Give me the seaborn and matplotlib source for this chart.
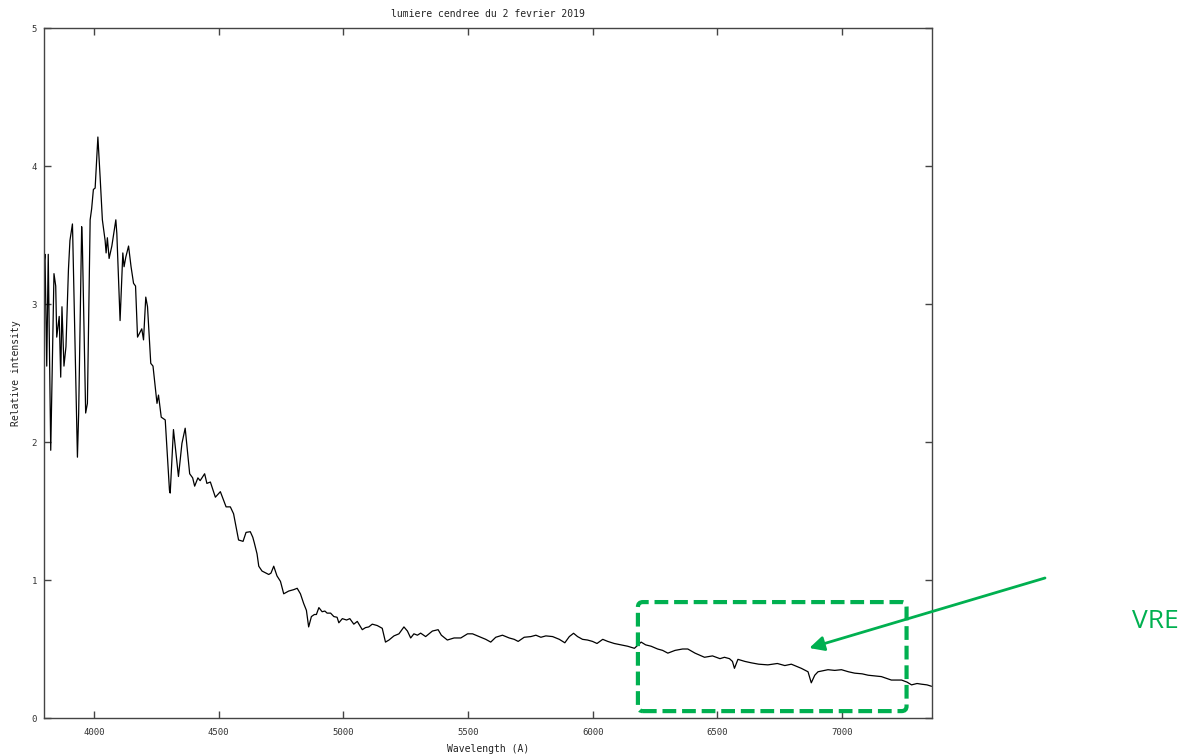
import numpy as np
import pandas as pd
import seaborn as sns
import matplotlib.pyplot as plt
from matplotlib.patches import FancyBboxPatch

# ---- data ----
wavelength = [
    3800, 3804, 3811, 3817, 3827, 3840, 3847, 3851, 3861, 3867, 3872, 3880, 3888, 3898,
    3904, 3914, 3915, 3934, 3939, 3951, 3954, 3967, 3974, 3985, 3991, 3998, 4005, 4016,
    4025, 4034, 4045, 4049, 4054, 4061, 4072, 4088, 4092, 4105, 4116, 4121, 4128, 4139,
    4149, 4159, 4167, 4175, 4192, 4199, 4208, 4215, 4228, 4237, 4253, 4259, 4270, 4286,
    4303, 4306, 4319, 4339, 4353, 4366, 4384, 4396, 4404, 4417, 4426, 4444, 4453, 4467,
    4487, 4507, 4530, 4547, 4560, 4580, 4598, 4610, 4627, 4637, 4643, 4654, 4661, 4674,
    4701, 4710, 4721, 4734, 4748, 4761, 4781, 4801, 4815, 4828, 4841, 4852, 4861, 4872,
    4884, 4892, 4902, 4915, 4926, 4935, 4949, 4962, 4975, 4982, 4996, 5013, 5026, 5042,
    5056, 5076, 5089, 5102, 5116, 5136, 5156, 5169, 5183, 5203, 5223, 5243, 5257, 5270,
    5283, 5297, 5310, 5330, 5357, 5380, 5393, 5417, 5444, 5471, 5498, 5518, 5544, 5571,
    5591, 5611, 5638, 5665, 5685, 5701, 5725, 5752, 5772, 5792, 5812, 5839, 5866, 5888,
    5906, 5923, 5939, 5959, 5979, 5999, 6017, 6040, 6060, 6086, 6113, 6140, 6167, 6194,
    6212, 6234, 6260, 6280, 6301, 6330, 6360, 6381, 6410, 6448, 6480, 6510, 6528, 6548,
    6560, 6568, 6582, 6610, 6635, 6665, 6702, 6740, 6770, 6796, 6836, 6863, 6876, 6890,
    6903, 6943, 6970, 6997, 7025, 7050, 7080, 7104, 7130, 7157, 7197, 7238, 7260, 7278,
    7300, 7318, 7340, 7358,
]
intensity = [
    3.29, 3.36, 2.55, 3.36, 1.94, 3.22, 3.13, 2.76, 2.91, 2.47, 2.98, 2.55, 2.69, 3.25,
    3.46, 3.58, 3.51, 1.89, 2.21, 3.56, 3.42, 2.21, 2.28, 3.61, 3.69, 3.83, 3.84, 4.21,
    3.92, 3.61, 3.46, 3.37, 3.48, 3.33, 3.42, 3.61, 3.51, 2.88, 3.37, 3.27, 3.34, 3.42,
    3.27, 3.15, 3.13, 2.76, 2.82, 2.74, 3.05, 2.98, 2.57, 2.55, 2.28, 2.34, 2.18, 2.16,
    1.65, 1.63, 2.09, 1.75, 1.99, 2.10, 1.77, 1.74, 1.68, 1.74, 1.72, 1.77, 1.70, 1.71,
    1.60, 1.64, 1.53, 1.53, 1.48, 1.29, 1.28, 1.345, 1.35, 1.31, 1.27, 1.19, 1.10, 1.065,
    1.04, 1.05, 1.10, 1.03, 0.99, 0.90, 0.92, 0.93, 0.94, 0.90, 0.83, 0.78, 0.66, 0.735,
    0.75, 0.75, 0.80, 0.77, 0.775, 0.76, 0.76, 0.735, 0.73, 0.69, 0.72, 0.71, 0.72, 0.68,
    0.70, 0.64, 0.655, 0.66, 0.68, 0.67, 0.65, 0.55, 0.565, 0.595, 0.61, 0.66, 0.63, 0.58,
    0.61, 0.60, 0.615, 0.59, 0.63, 0.64, 0.60, 0.565, 0.58, 0.58, 0.61, 0.61, 0.59, 0.57,
    0.55, 0.585, 0.60, 0.58, 0.57, 0.555, 0.585, 0.59, 0.60, 0.585, 0.595, 0.59, 0.57, 0.545,
    0.59, 0.614, 0.59, 0.57, 0.565, 0.555, 0.54, 0.57, 0.555, 0.54, 0.53, 0.52, 0.505, 0.55,
    0.53, 0.52, 0.50, 0.49, 0.47, 0.49, 0.50, 0.50, 0.47, 0.44, 0.45, 0.43, 0.44, 0.43,
    0.41, 0.36, 0.425, 0.41, 0.40, 0.39, 0.385, 0.395, 0.38, 0.39, 0.36, 0.335, 0.255, 0.31,
    0.335, 0.35, 0.345, 0.35, 0.335, 0.325, 0.32, 0.31, 0.305, 0.30, 0.275, 0.275, 0.26, 0.24,
    0.25, 0.245, 0.24, 0.23,
]
x_ticks = [4000, 4500, 5000, 5500, 6000, 6500, 7000]
y_ticks = [0, 1, 2, 3, 4, 5]
title = "lumiere cendree du 2 fevrier 2019"
x_label = "Wavelength (A)"
y_label = "Relative intensity"
box_x = [6181, 7258]
box_y = [0.05, 0.84]
arrow_tip = (6868, 0.507)
annot_text = "VRE"

df = pd.DataFrame({"wavelength": wavelength, "intensity": intensity})

sns.set_style("ticks")
plt.rcParams['font.family'] = ['DejaVu Sans Mono', 'DejaVu Sans']

GREEN = "#00B050"
GRAY = "#444444"

fig = plt.figure(figsize=(11.89, 7.56), dpi=100)
ax = fig.add_axes([44 / 1189, 38 / 756, 888 / 1189, 690 / 756])

sns.lineplot(data=df, x="wavelength", y="intensity", ax=ax, color="black",
             lw=0.9, estimator=None, sort=False)

ax.set_xlim(3800, 7360)
ax.set_ylim(0, 5)
ax.set_xticks(x_ticks)
ax.set_yticks(y_ticks)
ax.tick_params(axis="both", direction="in", top=True, right=True, length=5,
               width=1, color=GRAY, labelcolor="#333333", labelsize=6.5)
ax.tick_params(axis="x", pad=7)
ax.tick_params(axis="y", pad=5)
for s in ax.spines.values():
    s.set_color(GRAY)
    s.set_linewidth(1)

ax.set_title(title, fontsize=7, color="#222222", pad=8)
ax.set_xlabel(x_label, fontsize=7, color="#222222", labelpad=5)
ax.set_ylabel(y_label, fontsize=7, color="#222222", labelpad=8)

# dashed rounded box
xr = 3560 / 888.0      # data units per pixel in x
yr = 5 / 690.0         # data units per pixel in y
box = FancyBboxPatch((box_x[0], box_y[0]), box_x[1] - box_x[0], box_y[1] - box_y[0],
                     boxstyle=f"round,pad=0,rounding_size={5 * xr}",
                     mutation_aspect=yr / xr,
                     fill=False, edgecolor=GREEN, lw=3.0,
                     linestyle=(0, (3.3, 1.4)), clip_on=False, zorder=5)
ax.add_patch(box)

ax.annotate("", xy=arrow_tip, xycoords="data",
            xytext=(1045 / 1189, 1 - 578 / 756), textcoords="figure fraction",
            arrowprops=dict(arrowstyle="-|>", color=GREEN, lw=2.0,
                            mutation_scale=22, shrinkA=0, shrinkB=0),
            annotation_clip=False)

fig.text(1132 / 1189, 1 - 622 / 756, annot_text, color=GREEN, fontsize=19,
         family=["Open Sans", "DejaVu Sans"], ha="left", va="center")

fig.savefig("out.png", dpi=100)
